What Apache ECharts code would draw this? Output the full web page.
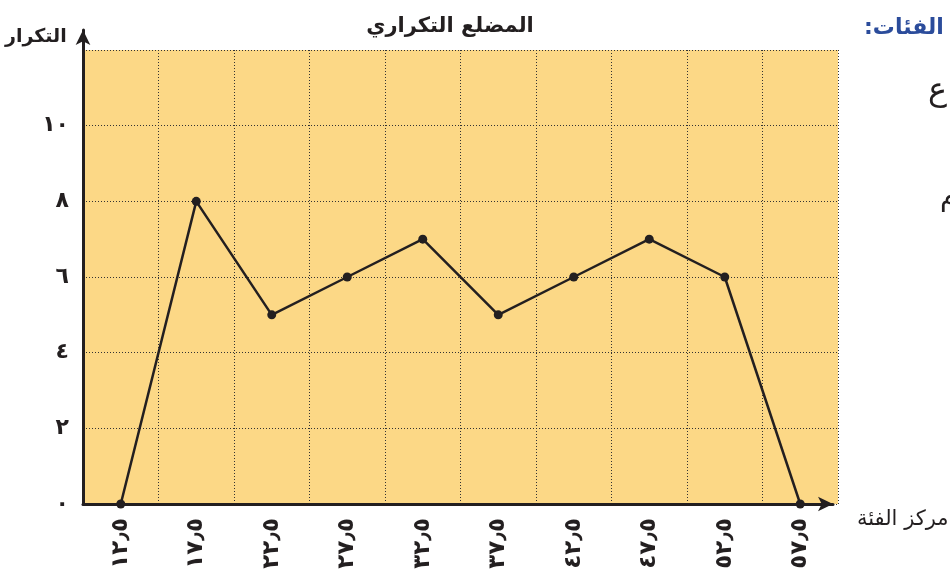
<!DOCTYPE html>
<html>
<head>
<meta charset="utf-8">
<script src="https://cdn.jsdelivr.net/npm/echarts@6/dist/echarts.min.js"></script>
<style>
  html, body { margin: 0; padding: 0; background: #fff; }
  #chart { width: 950px; height: 575px; }
</style>
</head>
<body>
<div id="chart"></div>
<script>
// مراكز الفئات والتكرار
const classCenters = [12.5, 17.5, 22.5, 27.5, 32.5, 37.5, 42.5, 47.5, 52.5, 57.5];
const frequencies = [0, 8, 5, 6, 7, 5, 6, 7, 6, 0];
const yTicks = [0, 2, 4, 6, 8, 10];

const FONT = "'DejaVu Sans', sans-serif";
const INK = "#231f20";

// أرقام هندية
function toArabic(v) {
  const digits = "٠١٢٣٤٥٦٧٨٩";
  return String(v).replace(/[0-9]/g, d => digits[+d]).replace(".", "٫");
}

const chart = echarts.init(document.getElementById("chart"));

const gridLine = { show: true, lineStyle: { color: "#333", type: [1, 2], width: 1 } };
const arrowLine = {
  show: true,
  symbol: ["none", "arrow"],
  symbolSize: [11, 15],
  lineStyle: { color: INK, width: 3 }
};

chart.setOption({
  animation: false,
  title: {
    text: "المضلع التكراري",
    left: 445,
    top: 11,
    textAlign: "center",
    textStyle: { fontFamily: FONT, fontSize: 21, fontWeight: "bold", color: INK }
  },
  grid: [
    { left: 83, right: 112, top: 50, bottom: 71, show: true, backgroundColor: "#fcd886", borderWidth: 0 },
    { left: 83, right: 117, top: 30, bottom: 71 }
  ],
  xAxis: [
    {
      type: "value",
      gridIndex: 0,
      min: 10,
      max: 60,
      interval: 5,
      axisLine: { show: false },
      axisTick: { show: false },
      splitLine: gridLine,
      axisLabel: {
        customValues: classCenters,
        rotate: 90,
        margin: 14,
        fontFamily: FONT,
        fontSize: 23,
        fontWeight: "bold",
        color: INK,
        formatter: v => toArabic(v)
      }
    },
    {
      type: "value",
      gridIndex: 1,
      min: 0,
      max: 1,
      axisLabel: { show: false },
      axisTick: { show: false },
      splitLine: { show: false },
      z: 3,
      axisLine: arrowLine
    }
  ],
  yAxis: [
    {
      type: "value",
      gridIndex: 0,
      min: 0,
      max: 12,
      interval: 2,
      axisLine: { show: false },
      axisTick: { show: false },
      splitLine: gridLine,
      axisLabel: {
        customValues: yTicks,
        margin: 14,
        fontFamily: FONT,
        fontSize: 22,
        fontWeight: "bold",
        color: INK,
        formatter: v => toArabic(v)
      }
    },
    {
      type: "value",
      gridIndex: 1,
      min: 0,
      max: 1,
      axisLabel: { show: false },
      axisTick: { show: false },
      splitLine: { show: false },
      z: 3,
      axisLine: arrowLine
    }
  ],
  graphic: [
    { type: "text", left: 5, top: 28, z: 10,
      style: { text: "التكرار", font: "bold 19px " + FONT, fill: INK } },
    { type: "text", left: 857, top: 509, z: 10,
      style: { text: "مركز الفئة", font: "21px " + FONT, fill: INK } },
    { type: "text", left: 864, top: 17, z: 10,
      style: { text: "الفئات:\u200F", font: "bold 22px " + FONT, fill: "#2b4c9b" } },
    { type: "text", left: 928, top: 76, z: 10,
      style: { text: "ع", font: "32px " + FONT, fill: INK } },
    { type: "text", left: 940, top: 184, z: 10,
      style: { text: "م", font: "28px " + FONT, fill: INK } }
  ],
  series: [
    {
      type: "line",
      xAxisIndex: 0,
      yAxisIndex: 0,
      z: 5,
      data: classCenters.map((c, i) => [c, frequencies[i]]),
      symbol: "circle",
      symbolSize: 9,
      clip: false,
      lineStyle: { color: INK, width: 2.5 },
      itemStyle: { color: INK }
    }
  ]
});
</script>
</body>
</html>
